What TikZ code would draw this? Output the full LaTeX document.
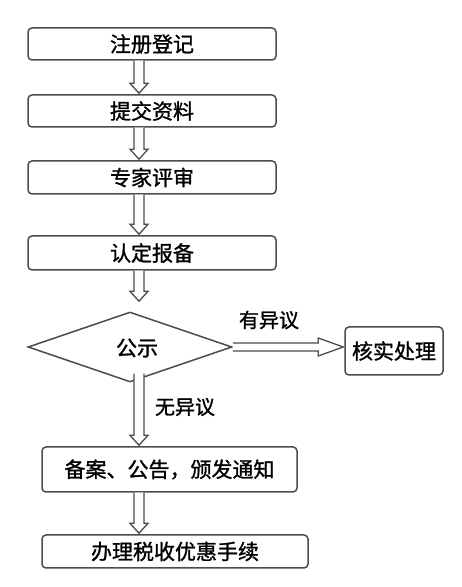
\documentclass[tikz,border=0pt]{standalone}
\usepackage{fontspec}
\newfontfamily\cjk[FakeBold=1.2]{Noto Sans CJK SC}
\usetikzlibrary{shapes.geometric,calc}
\tikzset{
  box/.style={draw=black!70, line width=1.5pt, rounded corners=4pt, inner sep=0pt, font=\cjk\fontsize{21}{24}\selectfont, text=black},
  dia/.style={draw=black!70, line width=1.5pt, diamond, inner sep=0pt, font=\cjk\fontsize{21}{24}\selectfont},
  hol/.style={draw=black!70, line width=1.3pt, fill=white, line join=miter},
  lab/.style={font=\cjk\fontsize{20}{24}\selectfont}
}
\newcommand\varrow[2]{%
  \draw[hol] let \p1=(#1.south), \p2=(#2.north) in
   (134pt,\y1) -- (134pt,\y2+11pt) -- (130pt,\y2+11pt) -- (139pt,\y2+1pt) -- (148pt,\y2+11pt) -- (144pt,\y2+11pt) -- (144pt,\y1);}
\begin{document}
\begin{tikzpicture}[x=1pt,y=1pt]
\useasboundingbox (0,0) rectangle (462,587);
\fill[white] (0,0) rectangle (462,587);
\node[box, minimum width=248pt, minimum height=32pt] (b1) at (152,543) {注册登记};
\node[box, minimum width=248pt, minimum height=32pt] (b2) at (152,476) {提交资料};
\node[box, minimum width=248pt, minimum height=33pt] (b3) at (152,409.5) {专家评审};
\node[box, minimum width=248pt, minimum height=34pt] (b4) at (152,334) {认定报备};
\node[dia, minimum width=204pt, minimum height=70pt, aspect=2.9] (d) at (130,240) {};
\node[font=\cjk\fontsize{21}{24}\selectfont] (dt) at (137,239) {公示};
\node[box, minimum width=98pt, minimum height=48pt] (hs) at (394,236) {核实处理};
\node[box, minimum width=255pt, minimum height=45pt] (b5) at (169.5,117.5) {备案、公告，颁发通知};
\node[box, minimum width=266pt, minimum height=33pt] (b6) at (175,35.5) {办理税收优惠手续};
\node[lab] (l1) at (269,267) {有异议};
\node[lab] (l2) at (185,180) {无异议};
\varrow{b1}{b2}
\varrow{b2}{b3}
\varrow{b3}{b4}
\draw[hol] let \p1=(b4.south), \p2=(d.north) in
   (134pt,\y1) -- (134pt,\y2+20pt) -- (130pt,\y2+20pt) -- (139pt,\y2+10pt) -- (148pt,\y2+20pt) -- (144pt,\y2+20pt) -- (144pt,\y1);
\draw[hol] let \p1=(d.south), \p2=(b5.north) in
   (134pt,\y1+9pt) -- (134pt,\y2+11pt) -- (130pt,\y2+11pt) -- (139pt,\y2+1pt) -- (148pt,\y2+11pt) -- (144pt,\y2+11pt) -- (144pt,\y1+9pt);
\varrow{b5}{b6}
\draw[hol] let \p1=(d.east), \p2=(hs.west) in
   (\x1,\y1+4pt) -- (\x2-26pt,\y1+4pt) -- (\x2-26pt,\y1+9pt) -- (\x2-1pt,\y1) -- (\x2-26pt,\y1-9pt) -- (\x2-26pt,\y1-4pt) -- (\x1,\y1-4pt);
\end{tikzpicture}
\end{document}
